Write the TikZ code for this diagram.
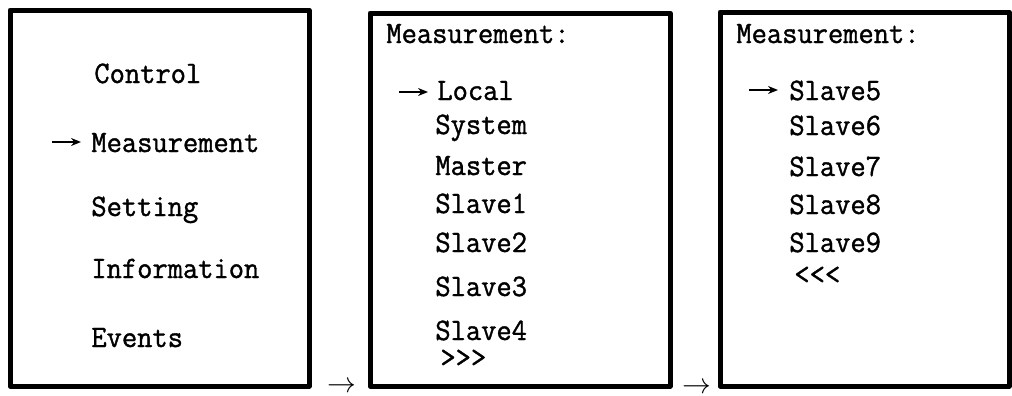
\documentclass[tikz,border=0pt]{standalone}
\usepackage{fontspec}
\usetikzlibrary{arrows.meta}
\newfontfamily\menufont{Latin Modern Mono}[FakeStretch=0.95,FakeBold=1.2]
\tikzset{
  screen/.style={draw, line width=2.5pt, line join=round, inner sep=0pt},
  entry/.style={anchor=base west, inner sep=0pt, font=\menufont\fontsize{15.6}{18}\selectfont},
  pointer/.style={line width=0.8pt, -{Stealth[length=5pt,width=4pt]}},
  goon/.style={inner sep=0pt, font=\fontsize{14}{14}\selectfont}
}
\begin{document}
\begin{tikzpicture}[x=0.5pt,y=-0.5pt]
\useasboundingbox (0,0) rectangle (1012,396);

% screens
\node[screen, minimum width=149.5pt, minimum height=188pt] (menu) at (159.5,198) {};
\node[screen, minimum width=150pt, minimum height=186.5pt] (pageA) at (520,199.5) {};
\node[screen, minimum width=144.5pt, minimum height=187pt] (pageB) at (864.5,199) {};

% main menu
\node[entry] (ctrl) at (94,83) {Control};
\node[entry] (meas) at (91,152) {Measurement};
\node[entry] (set) at (91,216) {Setting};
\node[entry] (info) at (91,278) {Information};
\node[entry] (evt) at (91,347) {Events};

% measurement, first page
\node[entry] (titleA) at (386,43) {Measurement:};
\node[entry] (local) at (437,100) {Local};
\node[entry] (sys) at (435,134) {System};
\node[entry] (master) at (435,175) {Master};
\node[entry] (slave1) at (435,213) {Slave1};
\node[entry] (slave2) at (435,252) {Slave2};
\node[entry] (slave3) at (435,296) {Slave3};
\node[entry] (slave4) at (435,340) {Slave4};
\node[entry] (next) at (440,367) {>{}>{}>};

% measurement, second page
\node[entry] (titleB) at (736,43) {Measurement:};
\node[entry] (slave5) at (789,100) {Slave5};
\node[entry] (slave6) at (789,135) {Slave6};
\node[entry] (slave7) at (789,176) {Slave7};
\node[entry] (slave8) at (789,214) {Slave8};
\node[entry] (slave9) at (789,252) {Slave9};
\node[entry] (back) at (794,284) {<{}<{}<};

% cursors
\draw[pointer] ([shift={(-39,-10)}]meas.base west) -- ++(29,0);
\draw[pointer] ([shift={(-38,-8)}]local.base west) -- ++(29,0);
\draw[pointer] ([shift={(-40,-10)}]slave5.base west) -- ++(29,0);

% page steps
\node[goon] (stepA) at (342,387) {$\rightarrow$};
\node[goon] (stepB) at (697,388) {$\rightarrow$};
\end{tikzpicture}
\end{document}
